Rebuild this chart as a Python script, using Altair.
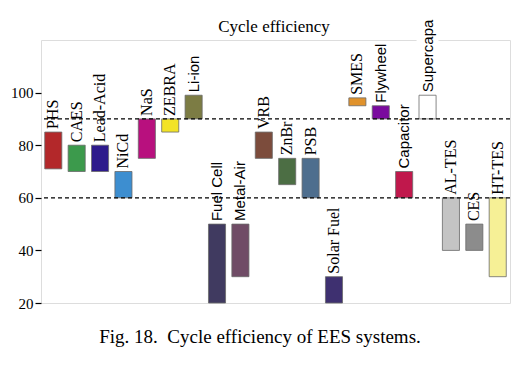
import altair as alt
import pandas as pd

names = ["PHS", "CAES", "Lead-Acid", "NiCd", "NaS", "ZEBRA", "Li-ion", "Fuel Cell",
         "Metal-Air", "VRB", "ZnBr", "PSB", "Solar Fuel", "SMES", "Flywheel",
         "Capacitor", "Supercapa", "AL-TES", "CES", "HT-TES"]
low = [71, 70, 70, 60, 75, 85, 90, 20, 30, 75, 65, 60, 20, 95, 90, 60, 90, 40, 40, 30]
high = [85, 80, 80, 70, 90, 90, 99, 50, 50, 85, 75, 75, 30, 98, 95, 70, 99, 60, 50, 60]
colors = ["#b3282a", "#3c9a4c", "#2d1a8c", "#3d8ed0", "#b8107e", "#f2e326", "#7c7c44",
          "#403a60", "#704c66", "#7c4c3c", "#4c6e44", "#4e6e8e", "#3e3070", "#e0922c",
          "#7a0a9e", "#c0184c", "#ffffff", "#c4c4c4", "#8c8c8c", "#f6f096"]
sans_labels = ["Li-ion", "Fuel Cell", "Metal-Air", "Flywheel", "Capacitor", "Supercapa"]
ref_lines = [60, 90]
y_ticks = [20, 40, 60, 80, 100]
title_text = "Cycle efficiency"
caption_text = "Fig. 18.\u00a0 Cycle efficiency of EES systems."

df = pd.DataFrame({"name": names, "low": low, "high": high, "color": colors})
df["sans"] = df["name"].isin(sans_labels)

x_enc = alt.X("name:N", sort=names, axis=None,
              scale=alt.Scale(paddingInner=0.27, paddingOuter=0.16))
y_scale = alt.Scale(domain=[20, 120], nice=False, zero=False)

base = alt.Chart(df)

bars = base.mark_bar(stroke="#6a6a6a", strokeWidth=0.8).encode(
    x=x_enc,
    y=alt.Y("low:Q", scale=y_scale,
            axis=alt.Axis(values=y_ticks, title=None, grid=False, domain=False,
                          tickColor="black", tickSize=6, tickWidth=1.2,
                          labelFont="Liberation Serif", labelFontSize=15,
                          labelColor="black", labelPadding=2)),
    y2="high:Q",
    color=alt.Color("color:N", scale=None),
)

# white gap in frame behind the Supercapa label
gap = alt.Chart(pd.DataFrame({"name": ["Supercapa"], "low": [99.5], "high": [125.5]})).mark_bar(
    color="white", size=22).encode(x=x_enc, y=alt.Y("low:Q", scale=y_scale), y2="high:Q")

rules = alt.Chart(pd.DataFrame({"v": ref_lines})).mark_rule(
    color="black", strokeDash=[4, 3], strokeWidth=1.3).encode(y=alt.Y("v:Q", scale=y_scale))

serif_txt = base.transform_filter("!datum.sans").mark_text(
    angle=270, align="left", baseline="middle", dx=3, font="Liberation Serif",
    fontSize=16, color="black").encode(x=x_enc, y=alt.Y("high:Q", scale=y_scale), text="name:N")
sans_txt = base.transform_filter("datum.sans").mark_text(
    angle=270, align="left", baseline="middle", dx=3, font="Liberation Sans",
    fontSize=15, color="black").encode(x=x_enc, y=alt.Y("high:Q", scale=y_scale), text="name:N")

title = alt.Chart(pd.DataFrame({"t": [title_text]})).mark_text(
    font="Liberation Serif", fontSize=17, color="black", align="center", baseline="alphabetic"
).encode(x=alt.value(233), y=alt.value(-8), text="t:N")

caption = alt.Chart(pd.DataFrame({"t": [caption_text]})).mark_text(
    font="Liberation Serif", fontSize=19, color="black", align="center", baseline="alphabetic"
).encode(x=alt.value(219), y=alt.value(303), text="t:N")

chart = alt.layer(bars, gap, rules, serif_txt, sans_txt, title, caption).properties(
    width=469, height=263,
    autosize=alt.AutoSizeParams(type="none"),
    padding={"left": 33, "top": 32, "right": 13, "bottom": 54},
).configure_view(stroke="black", strokeWidth=1.5).configure(background="white")

chart.save("out.html", embed_options={"renderer": "svg", "actions": False})
